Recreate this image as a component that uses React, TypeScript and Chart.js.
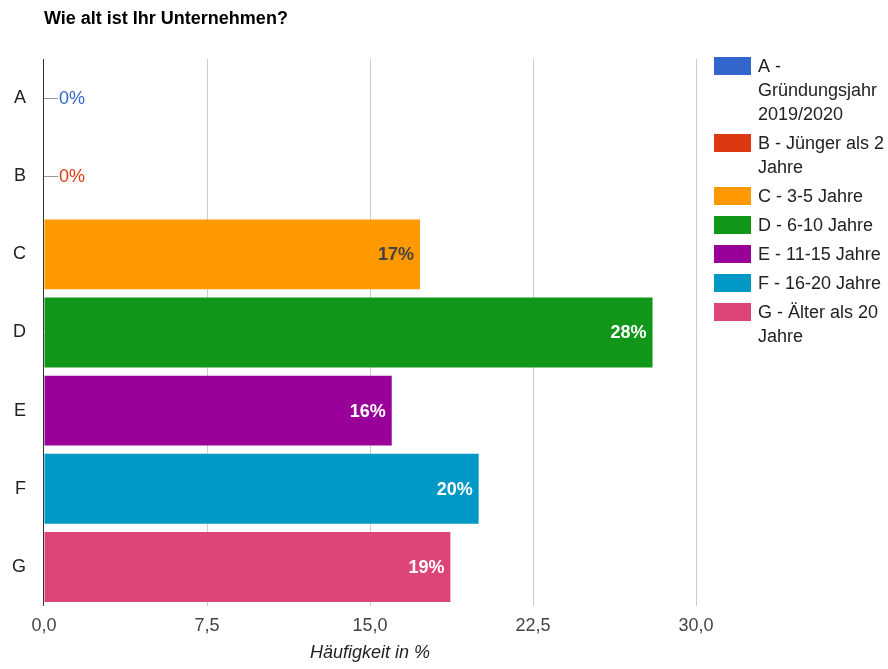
import React, { useEffect, useRef } from 'react';
import { Chart, registerables } from 'chart.js';

Chart.register(...registerables);

const chartTitle = 'Wie alt ist Ihr Unternehmen?';
const axisTitle = 'Häufigkeit in %';
const categories = ['A', 'B', 'C', 'D', 'E', 'F', 'G'];
const values = [0, 0, 17.3, 28.0, 16.0, 20.0, 18.7];
const barColors = ['#3366cc', '#dc3912', '#ff9900', '#109618', '#990099', '#0099c6', '#dd4477'];
const xTickValues = [0, 7.5, 15, 22.5, 30];
const legendLines = [
  ['A -', 'Gründungsjahr', '2019/2020'],
  ['B - Jünger als 2', 'Jahre'],
  ['C - 3-5 Jahre'],
  ['D - 6-10 Jahre'],
  ['E - 11-15 Jahre'],
  ['F - 16-20 Jahre'],
  ['G - Älter als 20', 'Jahre'],
];

const FONT = "Arial, 'Liberation Sans', sans-serif";

function luminance(hex: string) {
  const c = [1, 3, 5].map((i) => parseInt(hex.slice(i, i + 2), 16) / 255);
  const l = c.map((v) => (v <= 0.03928 ? v / 12.92 : Math.pow((v + 0.055) / 1.055, 2.4)));
  return 0.2126 * l[0] + 0.7152 * l[1] + 0.0722 * l[2];
}

const decorPlugin = {
  id: 'decor',
  afterDatasetsDraw(chart: any) {
    const ctx = chart.ctx;
    const area = chart.chartArea;
    const meta = chart.getDatasetMeta(0);
    const xScale = chart.scales.x;
    const x0 = xScale.getPixelForValue(0);
    ctx.save();
    // labels
    meta.data.forEach((bar: any, i: number) => {
      const v = values[i];
      if (v > 0) {
        ctx.font = `bold 18px ${FONT}`;
        ctx.textAlign = 'right';
        ctx.textBaseline = 'middle';
        ctx.fillStyle = luminance(barColors[i]) > 0.35 ? '#444444' : '#ffffff';
        ctx.fillText(`${Math.round(v)}%`, bar.x - 6, bar.y + 1);
      } else {
        ctx.strokeStyle = '#999999';
        ctx.lineWidth = 1;
        ctx.beginPath();
        ctx.moveTo(x0, Math.round(bar.y) + 0.5);
        ctx.lineTo(x0 + 14, Math.round(bar.y) + 0.5);
        ctx.stroke();
        ctx.font = `18px ${FONT}`;
        ctx.textAlign = 'left';
        ctx.textBaseline = 'middle';
        ctx.fillStyle = barColors[i];
        ctx.fillText(`${Math.round(v)}%`, x0 + 15, bar.y + 1);
      }
    });
    // zero baseline
    ctx.strokeStyle = '#333333';
    ctx.lineWidth = 1;
    ctx.beginPath();
    ctx.moveTo(Math.round(x0) - 0.5, area.top);
    ctx.lineTo(Math.round(x0) - 0.5, area.bottom);
    ctx.stroke();
    ctx.restore();
  },
  afterDraw(chart: any) {
    const ctx = chart.ctx;
    ctx.save();
    // title
    ctx.font = `bold 18px ${FONT}`;
    ctx.fillStyle = '#000000';
    ctx.textAlign = 'left';
    ctx.textBaseline = 'middle';
    ctx.fillText(chartTitle, 44, 19);
    // legend
    let top = 57;
    const lh = 24;
    legendLines.forEach((lines, i) => {
      ctx.fillStyle = barColors[i];
      ctx.fillRect(714, top, 37, 18);
      ctx.font = `18px ${FONT}`;
      ctx.fillStyle = '#222222';
      ctx.textAlign = 'left';
      ctx.textBaseline = 'middle';
      lines.forEach((ln, k) => {
        ctx.fillText(ln, 758, top + 10 + k * lh);
      });
      top += lines.length * lh + 5;
    });
    ctx.restore();
  },
};

export default function App() {
  const ref = useRef<HTMLCanvasElement>(null);
  useEffect(() => {
    if (!ref.current) return;
    const chart = new Chart(ref.current, {
      type: 'bar',
      data: {
        labels: categories,
        datasets: [
          {
            data: values,
            backgroundColor: barColors,
            barPercentage: 0.895,
            categoryPercentage: 1,
          },
        ],
      },
      options: {
        indexAxis: 'y',
        responsive: false,
        maintainAspectRatio: false,
        animation: false,
        layout: { padding: { top: 59, right: 192, left: 0, bottom: 0 } },
        plugins: { legend: { display: false }, tooltip: { enabled: false }, title: { display: false } },
        scales: {
          x: {
            min: 0,
            max: 30,
            afterBuildTicks: (scale: any) => {
              scale.ticks = xTickValues.map((v) => ({ value: v }));
            },
            afterFit: (scale: any) => {
              scale.height = 63;
            },
            grid: {
              color: (c: any) => (c.tick && c.tick.value === 0 ? 'rgba(0,0,0,0)' : '#cccccc'),
              drawTicks: false,
            },
            border: { display: false },
            ticks: {
              padding: 9,
              color: '#444444',
              font: { family: FONT, size: 18 },
              maxRotation: 0,
              autoSkip: false,
              callback: (v: any) => Number(v).toFixed(1).replace('.', ','),
            },
            title: {
              display: true,
              text: axisTitle,
              color: '#222222',
              font: { family: FONT, size: 18, style: 'italic' },
              padding: { top: 0, bottom: 5 },
            },
          },
          y: {
            afterFit: (scale: any) => {
              scale.width = 44;
            },
            grid: { display: false, drawTicks: false },
            border: { display: false },
            ticks: {
              padding: 18,
              color: '#222222',
              font: { family: FONT, size: 18 },
            },
          },
        },
      },
      plugins: [decorPlugin],
    });
    return () => chart.destroy();
  }, []);
  return (
    <div style={{ position: 'fixed', left: 0, top: 0, width: 888, height: 669, background: '#ffffff' }}>
      <canvas ref={ref} width={888} height={669} style={{ display: 'block', width: 888, height: 669 }} />
    </div>
  );
}
